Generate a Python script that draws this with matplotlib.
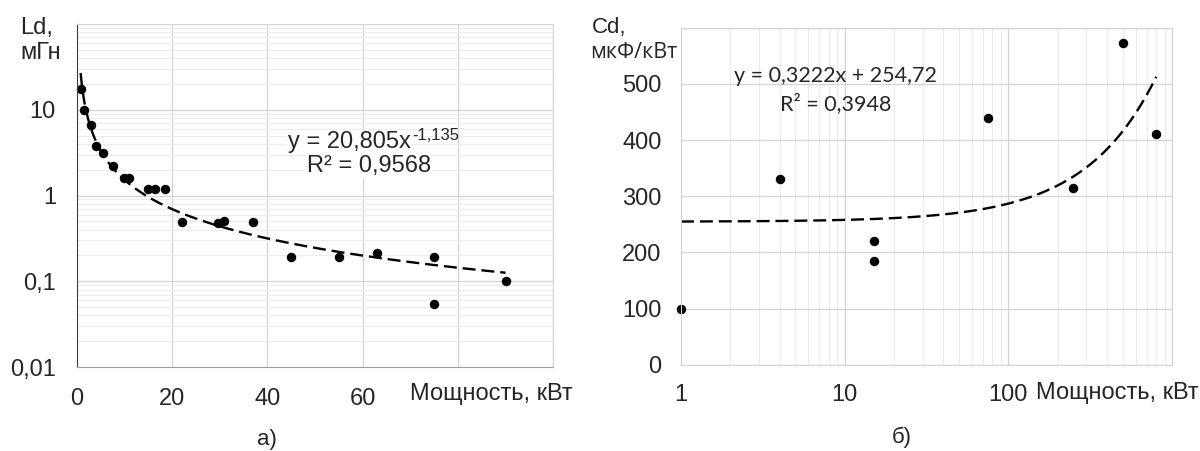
import numpy as np
import matplotlib
matplotlib.use('Agg')
import matplotlib.pyplot as plt
from matplotlib.ticker import LogLocator, NullFormatter

plt.rcParams['font.family'] = ['Liberation Sans', 'DejaVu Sans']

# a) inductance vs power
power_a = [0.8, 1.5, 2.9, 4, 5.5, 7.5, 10, 11, 15, 16.5, 18.5, 22, 29.6, 31, 37,
           45, 55, 63, 75, 75, 90]
ld = [17.5, 10, 6.6, 3.8, 3.1, 2.2, 1.6, 1.6, 1.2, 1.2, 1.2, 0.49, 0.48, 0.5, 0.49,
      0.19, 0.19, 0.215, 0.19, 0.055, 0.1]
coef_a, exp_a = 20.805, -1.135

# b) capacitance vs power
power_b = [1, 4, 15, 15, 75, 250, 500, 800]
cd = [100, 330, 220, 185, 440, 315, 573, 410]
slope_b, icpt_b = 0.3222, 254.72

a_xticks = [0, 20, 40, 60, 80, 100]
a_xlabels = ['0', '20', '40', '60', '', '']
a_yticks = [0.01, 0.1, 1, 10, 100]
a_ylabels = ['0,01', '0,1', '1', '10', '']
b_xticks = [1, 10, 100, 1000]
b_xlabels = ['1', '10', '100', '']
b_yticks = [0, 100, 200, 300, 400, 500, 600]
b_ylabels = ['0', '100', '200', '300', '400', '500', '']

txt = '#262626'
major = '#d4d4d4'
minor = '#ececec'
W, H = 1200.0, 451.0

fig = plt.figure(figsize=(12, 4.51), dpi=100)
ax1 = fig.add_axes([0.064, 0.186, 0.397, 0.761])
ax2 = fig.add_axes([0.5675, 0.191, 0.4092, 0.7477])


def ftext(x, y, s, **kw):
    # x, y in pixels measured from the top-left corner
    kw.setdefault('color', txt)
    return fig.text(x / W, 1 - y / H, s, **kw)


# --- left chart ---
ax1.set_yscale('log')
ax1.set_xlim(0, 100)
ax1.set_ylim(0.01, 100)
ax1.yaxis.set_minor_locator(LogLocator(base=10, subs=np.arange(2, 10)))
ax1.yaxis.set_minor_formatter(NullFormatter())
ax1.set_xticks(a_xticks)
ax1.set_xticklabels(a_xlabels)
ax1.set_yticks(a_yticks)
ax1.set_yticklabels(a_ylabels)
ax1.grid(True, which='major', color=major, lw=0.9)
ax1.grid(True, which='minor', axis='y', color=minor, lw=0.8)
ax1.set_axisbelow(True)
ax1.tick_params(which='both', length=0, pad=15, labelsize=17, labelcolor=txt)
for s in ['top', 'right']:
    ax1.spines[s].set_color(major)
ax1.spines['left'].set_color('#404040')
ax1.spines['bottom'].set_color('#a0a0a0')

xa = np.linspace(min(power_a), max(power_a), 400)
ax1.plot(xa, coef_a * xa ** exp_a, color='black', lw=1.7, ls=(0, (5.5, 2.5)))
ax1.plot(power_a, ld, 'o', color='black', ms=5.8, clip_on=False)

box = dict(facecolor='white', edgecolor='none', pad=1)
ftext(411, 142, 'y = 20,805x', fontsize=17, ha='right', va='center', bbox=box)
ftext(412, 135, '-1,135', fontsize=12, ha='left', va='center')
ftext(369, 166, 'R² = 0,9568', fontsize=17, ha='center', va='center', bbox=box)

# --- right chart ---
ax2.set_xscale('log')
ax2.set_xlim(1, 1000)
ax2.set_ylim(0, 600)
ax2.xaxis.set_minor_locator(LogLocator(base=10, subs=np.arange(2, 10)))
ax2.xaxis.set_minor_formatter(NullFormatter())
ax2.set_xticks(b_xticks)
ax2.set_xticklabels(b_xlabels)
ax2.set_yticks(b_yticks)
ax2.set_yticklabels(b_ylabels)
ax2.grid(True, which='major', color=major, lw=0.9)
ax2.grid(True, which='minor', axis='x', color=minor, lw=0.8)
ax2.set_axisbelow(True)
ax2.tick_params(which='both', length=0, pad=14, labelsize=17, labelcolor=txt)
for s in ax2.spines.values():
    s.set_color(major)

xb = np.logspace(np.log10(min(power_b)), np.log10(max(power_b)), 400)
ax2.plot(xb, slope_b * xb + icpt_b, color='black', lw=1.7, ls=(0, (5.5, 2.5)))
ax2.plot(power_b, cd, 'o', color='black', ms=5.8, clip_on=False)

calib = ['Lato', 'DejaVu Sans']
ftext(835, 76, 'y = 0,3222x + 254,72', fontsize=15.5, ha='center', va='center',
      family=calib)
ftext(836, 104, 'R² = 0,3948', fontsize=15.5, ha='center', va='center',
      family=calib)

# axis captions
ftext(20, 28, 'Ld,', fontsize=17, va='center', ha='left')
ftext(20, 53, 'мГн', fontsize=17, va='center', ha='left')
ftext(410, 394, 'Мощность, кВт', fontsize=17, va='center', ha='left')
ftext(267, 440, 'а)', fontsize=16, va='center', ha='center')

ftext(592, 28, 'Cd,', fontsize=16, va='center', ha='left')
ftext(590, 53, 'мкФ/кВт', fontsize=15.5, va='center', ha='left',
      family=['Open Sans', 'DejaVu Sans'])
ftext(1036, 393, 'Мощность, кВт', fontsize=17, va='center', ha='left')
ftext(902, 437, 'б)', fontsize=16, va='center', ha='center')

fig.savefig('out.png', dpi=100, facecolor='white')
